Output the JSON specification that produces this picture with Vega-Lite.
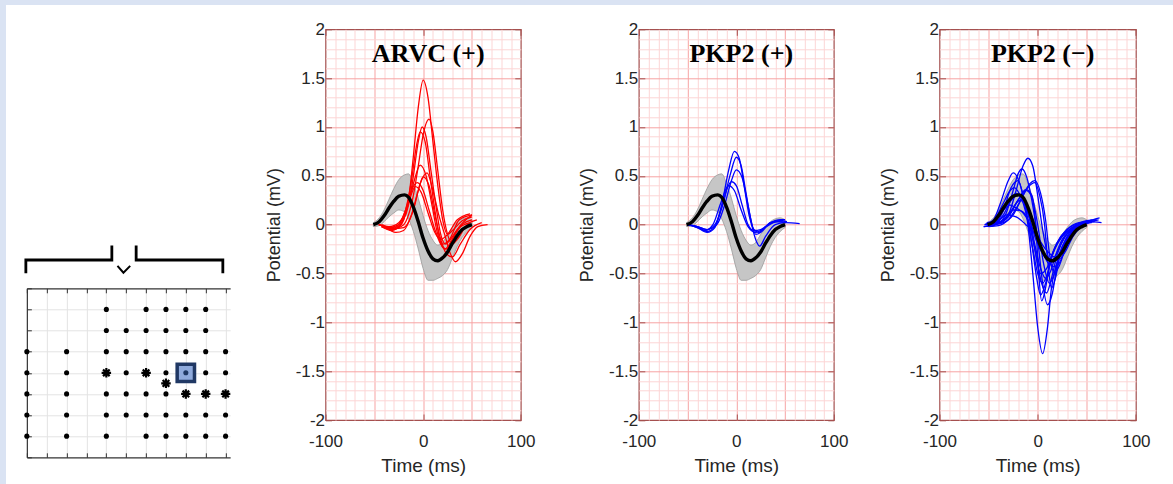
{
"$schema":"https://vega.github.io/schema/vega-lite/v6.json",
"padding":0,
"background":"white",
"config":{"view":{"stroke":null},"font":"Liberation Sans","axis":{"labelFont":"Liberation Sans","titleFont":"Liberation Sans","labelColor":"#262626","titleColor":"#262626","titleFontWeight":"normal","labelFlush":false},"title":{"font":"Liberation Serif"}},
"datasets":{
"band":[{"t":-51,"v":0.00,"lo":-0.02,"hi":0.02},{"t":-45,"v":0.03,"lo":-0.01,"hi":0.07},{"t":-40,"v":0.09,"lo":0.03,"hi":0.15},{"t":-35,"v":0.17,"lo":0.08,"hi":0.26},{"t":-30,"v":0.24,"lo":0.12,"hi":0.37},{"t":-25,"v":0.29,"lo":0.15,"hi":0.46},{"t":-19,"v":0.305,"lo":0.13,"hi":0.51},{"t":-15,"v":0.28,"lo":0.06,"hi":0.52},{"t":-10,"v":0.18,"lo":-0.07,"hi":0.42},{"t":-5,"v":0.03,"lo":-0.25,"hi":0.27},{"t":0,"v":-0.14,"lo":-0.45,"hi":0.09},{"t":5,"v":-0.27,"lo":-0.57,"hi":-0.06},{"t":10,"v":-0.35,"lo":-0.57,"hi":-0.16},{"t":15,"v":-0.37,"lo":-0.55,"hi":-0.21},{"t":20,"v":-0.34,"lo":-0.52,"hi":-0.18},{"t":25,"v":-0.28,"lo":-0.46,"hi":-0.10},{"t":30,"v":-0.19,"lo":-0.34,"hi":-0.03},{"t":35,"v":-0.11,"lo":-0.22,"hi":0.03},{"t":40,"v":-0.05,"lo":-0.13,"hi":0.06},{"t":45,"v":-0.02,"lo":-0.07,"hi":0.07},{"t":50,"v":0.00,"lo":-0.03,"hi":0.05}],
"arvc":[
{"k":1,"t":-45,"v":0},{"k":1,"t":-35,"v":-0.03},{"k":1,"t":-25,"v":-0.02},{"k":1,"t":-20,"v":0.05},{"k":1,"t":-15,"v":0.25},{"k":1,"t":-10,"v":0.7},{"k":1,"t":-5,"v":1.2},{"k":1,"t":0,"v":1.48},{"k":1,"t":5,"v":1.3},{"k":1,"t":10,"v":0.85},{"k":1,"t":15,"v":0.4},{"k":1,"t":20,"v":0.05},{"k":1,"t":25,"v":-0.1},{"k":1,"t":30,"v":-0.06},{"k":1,"t":40,"v":0.04},{"k":1,"t":50,"v":0.08},
{"k":2,"t":-42,"v":0},{"k":2,"t":-30,"v":-0.04},{"k":2,"t":-20,"v":0},{"k":2,"t":-15,"v":0.1},{"k":2,"t":-10,"v":0.3},{"k":2,"t":-5,"v":0.6},{"k":2,"t":0,"v":0.92},{"k":2,"t":6,"v":1.08},{"k":2,"t":10,"v":0.95},{"k":2,"t":15,"v":0.55},{"k":2,"t":20,"v":0.15},{"k":2,"t":25,"v":-0.1},{"k":2,"t":30,"v":-0.2},{"k":2,"t":35,"v":-0.15},{"k":2,"t":45,"v":0},{"k":2,"t":55,"v":0.05},
{"k":3,"t":-44,"v":0},{"k":3,"t":-30,"v":-0.05},{"k":3,"t":-20,"v":0.05},{"k":3,"t":-15,"v":0.2},{"k":3,"t":-10,"v":0.5},{"k":3,"t":-5,"v":0.85},{"k":3,"t":-1,"v":1.0},{"k":3,"t":3,"v":0.9},{"k":3,"t":8,"v":0.55},{"k":3,"t":13,"v":0.2},{"k":3,"t":18,"v":-0.1},{"k":3,"t":23,"v":-0.2},{"k":3,"t":28,"v":-0.15},{"k":3,"t":35,"v":-0.05},{"k":3,"t":48,"v":0.02},
{"k":4,"t":-46,"v":0},{"k":4,"t":-35,"v":-0.02},{"k":4,"t":-25,"v":0.02},{"k":4,"t":-18,"v":0.15},{"k":4,"t":-12,"v":0.45},{"k":4,"t":-7,"v":0.8},{"k":4,"t":-3,"v":0.95},{"k":4,"t":2,"v":0.85},{"k":4,"t":7,"v":0.5},{"k":4,"t":12,"v":0.15},{"k":4,"t":17,"v":-0.15},{"k":4,"t":22,"v":-0.25},{"k":4,"t":27,"v":-0.2},{"k":4,"t":35,"v":-0.05},{"k":4,"t":50,"v":0.1},
{"k":5,"t":-43,"v":-0.02},{"k":5,"t":-33,"v":-0.05},{"k":5,"t":-25,"v":0},{"k":5,"t":-17,"v":0.15},{"k":5,"t":-10,"v":0.42},{"k":5,"t":-3,"v":0.61},{"k":5,"t":3,"v":0.5},{"k":5,"t":9,"v":0.2},{"k":5,"t":15,"v":-0.1},{"k":5,"t":20,"v":-0.2},{"k":5,"t":27,"v":-0.15},{"k":5,"t":37,"v":0.05},{"k":5,"t":50,"v":0.1},
{"k":6,"t":-40,"v":-0.02},{"k":6,"t":-30,"v":-0.04},{"k":6,"t":-20,"v":-0.03},{"k":6,"t":-10,"v":0.15},{"k":6,"t":-3,"v":0.42},{"k":6,"t":4,"v":0.53},{"k":6,"t":10,"v":0.35},{"k":6,"t":16,"v":0.1},{"k":6,"t":22,"v":-0.1},{"k":6,"t":28,"v":-0.3},{"k":6,"t":33,"v":-0.38},{"k":6,"t":40,"v":-0.3},{"k":6,"t":48,"v":-0.12},{"k":6,"t":56,"v":-0.02},{"k":6,"t":66,"v":0},
{"k":7,"t":-45,"v":0},{"k":7,"t":-35,"v":-0.03},{"k":7,"t":-25,"v":0},{"k":7,"t":-18,"v":0.15},{"k":7,"t":-12,"v":0.35},{"k":7,"t":-6,"v":0.43},{"k":7,"t":0,"v":0.35},{"k":7,"t":6,"v":0.15},{"k":7,"t":12,"v":-0.05},{"k":7,"t":18,"v":-0.2},{"k":7,"t":24,"v":-0.25},{"k":7,"t":30,"v":-0.15},{"k":7,"t":40,"v":0},{"k":7,"t":50,"v":0.05},
{"k":8,"t":-42,"v":-0.02},{"k":8,"t":-32,"v":-0.06},{"k":8,"t":-22,"v":0.02},{"k":8,"t":-15,"v":0.22},{"k":8,"t":-8,"v":0.39},{"k":8,"t":-2,"v":0.33},{"k":8,"t":5,"v":0.12},{"k":8,"t":12,"v":-0.08},{"k":8,"t":18,"v":-0.15},{"k":8,"t":25,"v":-0.1},{"k":8,"t":35,"v":0.05},{"k":8,"t":48,"v":0.11},
{"k":9,"t":-38,"v":-0.03},{"k":9,"t":-28,"v":-0.08},{"k":9,"t":-20,"v":-0.06},{"k":9,"t":-12,"v":0.1},{"k":9,"t":-5,"v":0.35},{"k":9,"t":0,"v":0.49},{"k":9,"t":6,"v":0.4},{"k":9,"t":12,"v":0.1},{"k":9,"t":18,"v":-0.15},{"k":9,"t":24,"v":-0.3},{"k":9,"t":30,"v":-0.33},{"k":9,"t":38,"v":-0.2},{"k":9,"t":48,"v":-0.05},{"k":9,"t":60,"v":0.02}
],
"pkpPos":[
{"k":1,"t":-50,"v":0},{"k":1,"t":-40,"v":-0.03},{"k":1,"t":-30,"v":-0.07},{"k":1,"t":-22,"v":-0.02},{"k":1,"t":-15,"v":0.2},{"k":1,"t":-8,"v":0.55},{"k":1,"t":-2,"v":0.75},{"k":1,"t":3,"v":0.68},{"k":1,"t":8,"v":0.4},{"k":1,"t":13,"v":0.1},{"k":1,"t":18,"v":-0.05},{"k":1,"t":23,"v":-0.08},{"k":1,"t":30,"v":-0.02},{"k":1,"t":40,"v":0.03},{"k":1,"t":50,"v":0.02},
{"k":2,"t":-50,"v":0},{"k":2,"t":-40,"v":-0.02},{"k":2,"t":-30,"v":-0.05},{"k":2,"t":-22,"v":0},{"k":2,"t":-14,"v":0.2},{"k":2,"t":-6,"v":0.52},{"k":2,"t":0,"v":0.69},{"k":2,"t":5,"v":0.6},{"k":2,"t":10,"v":0.32},{"k":2,"t":15,"v":0.05},{"k":2,"t":20,"v":-0.1},{"k":2,"t":25,"v":-0.08},{"k":2,"t":35,"v":0.02},{"k":2,"t":45,"v":0.04},{"k":2,"t":52,"v":0.03},
{"k":3,"t":-50,"v":0},{"k":3,"t":-40,"v":-0.02},{"k":3,"t":-30,"v":-0.05},{"k":3,"t":-20,"v":0},{"k":3,"t":-12,"v":0.2},{"k":3,"t":-5,"v":0.45},{"k":3,"t":0,"v":0.56},{"k":3,"t":6,"v":0.48},{"k":3,"t":12,"v":0.2},{"k":3,"t":17,"v":-0.05},{"k":3,"t":21,"v":-0.18},{"k":3,"t":24,"v":-0.22},{"k":3,"t":30,"v":-0.12},{"k":3,"t":40,"v":0},{"k":3,"t":50,"v":0.02},{"k":3,"t":65,"v":0.01},
{"k":4,"t":-50,"v":0},{"k":4,"t":-40,"v":-0.03},{"k":4,"t":-30,"v":-0.08},{"k":4,"t":-22,"v":-0.03},{"k":4,"t":-15,"v":0.18},{"k":4,"t":-9,"v":0.38},{"k":4,"t":-5,"v":0.44},{"k":4,"t":0,"v":0.4},{"k":4,"t":6,"v":0.2},{"k":4,"t":12,"v":0},{"k":4,"t":18,"v":-0.06},{"k":4,"t":25,"v":-0.05},{"k":4,"t":35,"v":0.02},{"k":4,"t":45,"v":0.05},{"k":4,"t":50,"v":0.05},
{"k":5,"t":-50,"v":0},{"k":5,"t":-40,"v":-0.02},{"k":5,"t":-32,"v":-0.06},{"k":5,"t":-24,"v":0},{"k":5,"t":-16,"v":0.22},{"k":5,"t":-8,"v":0.4},{"k":5,"t":-2,"v":0.35},{"k":5,"t":5,"v":0.15},{"k":5,"t":12,"v":-0.02},{"k":5,"t":20,"v":-0.08},{"k":5,"t":28,"v":-0.04},{"k":5,"t":38,"v":0.02},{"k":5,"t":48,"v":0.04}
],
"pkpNeg":[
{"k":1,"t":-52,"v":0},{"k":1,"t":-40,"v":0.02},{"k":1,"t":-30,"v":0.1},{"k":1,"t":-22,"v":0.35},{"k":1,"t":-15,"v":0.6},{"k":1,"t":-10,"v":0.68},{"k":1,"t":-5,"v":0.6},{"k":1,"t":0,"v":0.3},{"k":1,"t":5,"v":-0.05},{"k":1,"t":10,"v":-0.3},{"k":1,"t":15,"v":-0.43},{"k":1,"t":20,"v":-0.42},{"k":1,"t":27,"v":-0.28},{"k":1,"t":35,"v":-0.12},{"k":1,"t":45,"v":0},{"k":1,"t":55,"v":0.05},
{"k":2,"t":-54,"v":0},{"k":2,"t":-45,"v":0.03},{"k":2,"t":-35,"v":0.15},{"k":2,"t":-27,"v":0.38},{"k":2,"t":-20,"v":0.45},{"k":2,"t":-15,"v":0.3},{"k":2,"t":-10,"v":0},{"k":2,"t":-5,"v":-0.5},{"k":2,"t":0,"v":-1.05},{"k":2,"t":5,"v":-1.32},{"k":2,"t":10,"v":-1.05},{"k":2,"t":14,"v":-0.65},{"k":2,"t":18,"v":-0.45},{"k":2,"t":23,"v":-0.3},{"k":2,"t":30,"v":-0.15},{"k":2,"t":40,"v":-0.03},{"k":2,"t":50,"v":0.02},{"k":2,"t":58,"v":0.03},
{"k":3,"t":-53,"v":0},{"k":3,"t":-45,"v":0.05},{"k":3,"t":-38,"v":0.22},{"k":3,"t":-30,"v":0.45},{"k":3,"t":-25,"v":0.53},{"k":3,"t":-20,"v":0.47},{"k":3,"t":-15,"v":0.3},{"k":3,"t":-10,"v":0.05},{"k":3,"t":-5,"v":-0.25},{"k":3,"t":0,"v":-0.5},{"k":3,"t":5,"v":-0.6},{"k":3,"t":10,"v":-0.5},{"k":3,"t":15,"v":-0.3},{"k":3,"t":22,"v":-0.15},{"k":3,"t":30,"v":-0.05},{"k":3,"t":42,"v":0.02},{"k":3,"t":50,"v":0.03},
{"k":4,"t":-50,"v":0},{"k":4,"t":-40,"v":0.02},{"k":4,"t":-32,"v":0.12},{"k":4,"t":-25,"v":0.35},{"k":4,"t":-20,"v":0.52},{"k":4,"t":-16,"v":0.57},{"k":4,"t":-11,"v":0.48},{"k":4,"t":-6,"v":0.25},{"k":4,"t":0,"v":-0.15},{"k":4,"t":5,"v":-0.6},{"k":4,"t":10,"v":-0.82},{"k":4,"t":15,"v":-0.7},{"k":4,"t":20,"v":-0.4},{"k":4,"t":27,"v":-0.2},{"k":4,"t":35,"v":-0.07},{"k":4,"t":45,"v":0},{"k":4,"t":55,"v":0.03},
{"k":5,"t":-50,"v":-0.02},{"k":5,"t":-40,"v":-0.01},{"k":5,"t":-30,"v":0.05},{"k":5,"t":-20,"v":0.2},{"k":5,"t":-10,"v":0.38},{"k":5,"t":-3,"v":0.43},{"k":5,"t":2,"v":0.3},{"k":5,"t":7,"v":0},{"k":5,"t":10,"v":-0.35},{"k":5,"t":14,"v":-0.65},{"k":5,"t":18,"v":-0.55},{"k":5,"t":23,"v":-0.3},{"k":5,"t":30,"v":-0.12},{"k":5,"t":40,"v":0},{"k":5,"t":50,"v":0.04},{"k":5,"t":60,"v":0.05},
{"k":6,"t":-52,"v":0},{"k":6,"t":-40,"v":0.02},{"k":6,"t":-30,"v":0.08},{"k":6,"t":-20,"v":0.25},{"k":6,"t":-12,"v":0.36},{"k":6,"t":-6,"v":0.3},{"k":6,"t":-2,"v":0},{"k":6,"t":1,"v":-0.5},{"k":6,"t":4,"v":-0.78},{"k":6,"t":8,"v":-0.65},{"k":6,"t":12,"v":-0.4},{"k":6,"t":18,"v":-0.22},{"k":6,"t":25,"v":-0.12},{"k":6,"t":35,"v":-0.03},{"k":6,"t":45,"v":0.01},{"k":6,"t":55,"v":0.02},
{"k":7,"t":-48,"v":0},{"k":7,"t":-40,"v":0.05},{"k":7,"t":-32,"v":0.2},{"k":7,"t":-22,"v":0.32},{"k":7,"t":-15,"v":0.25},{"k":7,"t":-8,"v":0.05},{"k":7,"t":-2,"v":-0.15},{"k":7,"t":5,"v":-0.3},{"k":7,"t":10,"v":-0.36},{"k":7,"t":16,"v":-0.38},{"k":7,"t":22,"v":-0.3},{"k":7,"t":30,"v":-0.15},{"k":7,"t":40,"v":-0.03},{"k":7,"t":50,"v":0.02},{"k":7,"t":62,"v":0.05},
{"k":8,"t":-55,"v":-0.02},{"k":8,"t":-45,"v":0},{"k":8,"t":-35,"v":0.1},{"k":8,"t":-27,"v":0.25},{"k":8,"t":-20,"v":0.3},{"k":8,"t":-14,"v":0.25},{"k":8,"t":-8,"v":0.05},{"k":8,"t":-3,"v":-0.2},{"k":8,"t":3,"v":-0.45},{"k":8,"t":8,"v":-0.55},{"k":8,"t":13,"v":-0.48},{"k":8,"t":18,"v":-0.32},{"k":8,"t":25,"v":-0.15},{"k":8,"t":35,"v":-0.05},{"k":8,"t":45,"v":0.02},{"k":8,"t":55,"v":0.04},
{"k":9,"t":-52,"v":0.02},{"k":9,"t":-42,"v":0.05},{"k":9,"t":-35,"v":0.15},{"k":9,"t":-28,"v":0.2},{"k":9,"t":-22,"v":0.17},{"k":9,"t":-15,"v":0.12},{"k":9,"t":-8,"v":0},{"k":9,"t":-2,"v":-0.3},{"k":9,"t":4,"v":-0.6},{"k":9,"t":9,"v":-0.7},{"k":9,"t":14,"v":-0.55},{"k":9,"t":20,"v":-0.3},{"k":9,"t":28,"v":-0.12},{"k":9,"t":38,"v":-0.02},{"k":9,"t":50,"v":0.03},
{"k":10,"t":-55,"v":-0.02},{"k":10,"t":-45,"v":-0.01},{"k":10,"t":-35,"v":0.05},{"k":10,"t":-25,"v":0.15},{"k":10,"t":-17,"v":0.14},{"k":10,"t":-10,"v":0.05},{"k":10,"t":-4,"v":-0.2},{"k":10,"t":3,"v":-0.5},{"k":10,"t":9,"v":-0.45},{"k":10,"t":16,"v":-0.28},{"k":10,"t":25,"v":-0.12},{"k":10,"t":35,"v":-0.03},{"k":10,"t":48,"v":0.02},
{"k":11,"t":-50,"v":0},{"k":11,"t":-40,"v":0.01},{"k":11,"t":-30,"v":0.08},{"k":11,"t":-20,"v":0.25},{"k":11,"t":-12,"v":0.35},{"k":11,"t":-6,"v":0.28},{"k":11,"t":0,"v":0},{"k":11,"t":6,"v":-0.4},{"k":11,"t":12,"v":-0.6},{"k":11,"t":17,"v":-0.5},{"k":11,"t":22,"v":-0.3},{"k":11,"t":30,"v":-0.13},{"k":11,"t":40,"v":-0.02},{"k":11,"t":52,"v":0.03},{"k":11,"t":65,"v":0.02},
{"k":12,"t":-45,"v":0},{"k":12,"t":-35,"v":0.02},{"k":12,"t":-25,"v":0.1},{"k":12,"t":-15,"v":0.3},{"k":12,"t":-8,"v":0.42},{"k":12,"t":-3,"v":0.45},{"k":12,"t":3,"v":0.32},{"k":12,"t":8,"v":0.05},{"k":12,"t":12,"v":-0.3},{"k":12,"t":17,"v":-0.5},{"k":12,"t":22,"v":-0.42},{"k":12,"t":28,"v":-0.25},{"k":12,"t":36,"v":-0.1},{"k":12,"t":46,"v":0},{"k":12,"t":56,"v":0.05},{"k":12,"t":63,"v":0.07},
{"k":13,"t":-50,"v":0},{"k":13,"t":-40,"v":0.02},{"k":13,"t":-30,"v":0.1},{"k":13,"t":-18,"v":0.25},{"k":13,"t":-10,"v":0.18},{"k":13,"t":-3,"v":0},{"k":13,"t":4,"v":-0.25},{"k":13,"t":12,"v":-0.4},{"k":13,"t":18,"v":-0.32},{"k":13,"t":26,"v":-0.15},{"k":13,"t":36,"v":-0.03},{"k":13,"t":48,"v":0.02},
{"k":14,"t":-54,"v":0},{"k":14,"t":-45,"v":0.04},{"k":14,"t":-36,"v":0.2},{"k":14,"t":-28,"v":0.35},{"k":14,"t":-24,"v":0.38},{"k":14,"t":-18,"v":0.3},{"k":14,"t":-12,"v":0.12},{"k":14,"t":-6,"v":-0.2},{"k":14,"t":-1,"v":-0.55},{"k":14,"t":3,"v":-0.72},{"k":14,"t":8,"v":-0.6},{"k":14,"t":14,"v":-0.35},{"k":14,"t":20,"v":-0.18},{"k":14,"t":30,"v":-0.05},{"k":14,"t":42,"v":0.01},{"k":14,"t":52,"v":0.02},
{"k":15,"t":-52,"v":0},{"k":15,"t":-42,"v":0.02},{"k":15,"t":-32,"v":0.1},{"k":15,"t":-22,"v":0.08},{"k":15,"t":-12,"v":0},{"k":15,"t":-2,"v":-0.1},{"k":15,"t":8,"v":-0.25},{"k":15,"t":15,"v":-0.32},{"k":15,"t":22,"v":-0.35},{"k":15,"t":28,"v":-0.28},{"k":15,"t":36,"v":-0.12},{"k":15,"t":45,"v":-0.02},{"k":15,"t":55,"v":0.03}
],
"dots":[{"c":4,"r":1},{"c":6,"r":1},{"c":7,"r":1},{"c":8,"r":1},{"c":9,"r":1},
{"c":4,"r":2},{"c":5,"r":2},{"c":6,"r":2},{"c":7,"r":2},{"c":8,"r":2},{"c":9,"r":2},
{"c":0,"r":3},{"c":2,"r":3},{"c":4,"r":3},{"c":5,"r":3},{"c":6,"r":3},{"c":7,"r":3},{"c":8,"r":3},{"c":9,"r":3},{"c":10,"r":3},
{"c":0,"r":4},{"c":2,"r":4},{"c":5,"r":4},{"c":7,"r":4},{"c":9,"r":4},{"c":10,"r":4},
{"c":0,"r":5},{"c":2,"r":5},{"c":4,"r":5},{"c":5,"r":5},{"c":6,"r":5},{"c":7,"r":5},
{"c":0,"r":6},{"c":2,"r":6},{"c":4,"r":6},{"c":5,"r":6},{"c":6,"r":6},{"c":7,"r":6},{"c":8,"r":6},{"c":9,"r":6},{"c":10,"r":6},
{"c":0,"r":7},{"c":2,"r":7},{"c":4,"r":7},{"c":6,"r":7},{"c":7,"r":7},{"c":8,"r":7},{"c":9,"r":7},{"c":10,"r":7}],
"stars":[{"c":4,"r":4},{"c":6,"r":4},{"c":7,"r":4.5},{"c":8,"r":5},{"c":9,"r":5},{"c":10,"r":5}],
"sel":[{"c":8,"r":4}],
"bracket":[{"g":"L","i":1,"x":-0.05,"y":-0.78},{"g":"L","i":2,"x":-0.05,"y":-1.34},{"g":"L","i":3,"x":4.277,"y":-1.34},{"g":"L","i":4,"x":4.277,"y":-1.96},
{"g":"R","i":1,"x":5.5,"y":-1.96},{"g":"R","i":2,"x":5.5,"y":-1.34},{"g":"R","i":3,"x":9.862,"y":-1.34},{"g":"R","i":4,"x":9.862,"y":-0.78}],
"chevron":[{"i":1,"x":4.56,"y":-1.06},{"i":2,"x":4.86,"y":-0.74},{"i":3,"x":5.2,"y":-1.06}]
},
"bounds":"flush",
"spacing":0,
"hconcat":[
{"width":6,"height":484,"view":{"stroke":null,"fill":"#dae3f3"},"data":{"values":[{}]},"mark":{"type":"rect","color":"#dae3f3"}},
{"vconcat":[
 {"width":1167,"height":5,"view":{"stroke":null,"fill":"#dae3f3"},"data":{"values":[{}]},"mark":{"type":"rect","color":"#dae3f3"}},
 {"hconcat":[
  {"vconcat":[
   {"width":244.7,"height":259,"view":{"stroke":null},
    "layer":[
     {"data":{"name":"bracket"},"mark":{"type":"line","color":"black","strokeWidth":2.8,"strokeJoin":"miter","strokeCap":"square"},
      "encoding":{"x":{"field":"x","type":"quantitative","scale":{"domain":[-1.0416,11.2716],"nice":false,"zero":false},"axis":null},
       "y":{"field":"y","type":"quantitative","scale":{"domain":[-12.26,0],"reverse":true,"nice":false,"zero":false},"axis":null},
       "detail":{"field":"g"},"order":{"field":"i"}}},
     {"data":{"name":"chevron"},"mark":{"type":"line","color":"black","strokeWidth":2,"strokeJoin":"miter"},
      "encoding":{"x":{"field":"x","type":"quantitative","axis":null},"y":{"field":"y","type":"quantitative","axis":null},"order":{"field":"i"}}}
    ]},
   {"width":203.3,"height":169,"view":{"stroke":null},
    "layer":[
     {"data":{"name":"dots"},"mark":{"type":"circle","color":"black","opacity":1,"size":26},
      "encoding":{"x":{"field":"c","type":"quantitative","scale":{"domain":[0,10.23],"nice":false,"zero":false},
        "axis":{"values":[0,1,2,3,4,5,6,7,8,9,10],"grid":true,"gridColor":"#e3e3e3","gridWidth":1,"gridOpacity":{"condition":{"test":"datum.value === 0","value":0},"value":1},"labels":false,"ticks":true,"tickSize":-4.5,"tickColor":"#333333","domain":true,"domainColor":"#333333","domainWidth":1.2,"title":null}},
       "y":{"field":"r","type":"quantitative","scale":{"domain":[0,8],"reverse":true,"nice":false,"zero":false},
        "axis":{"values":[0,1,2,3,4,5,6,7,8],"grid":true,"gridColor":"#e3e3e3","gridWidth":1,"gridOpacity":{"condition":{"test":"datum.value === 0 || datum.value === 8","value":0},"value":1},"labels":false,"ticks":true,"tickSize":-4.5,"tickColor":"#333333","domain":true,"domainColor":"#333333","domainWidth":1.2,"title":null}}}},
     {"data":{"name":"stars"},"mark":{"type":"point","shape":"M0,-1L0,1M-1,0L1,0M-0.7,-0.7L0.7,0.7M-0.7,0.7L0.7,-0.7","filled":false,"color":"black","strokeWidth":2.2,"size":90,"opacity":1},
      "encoding":{"x":{"field":"c","type":"quantitative","axis":{"orient":"top","values":[0,1,2,3,4,5,6,7,8,9,10],"grid":false,"labels":false,"ticks":true,"tickSize":-4.5,"tickColor":"#333333","domain":true,"domainColor":"#333333","domainWidth":1.2,"title":null}},
       "y":{"field":"r","type":"quantitative","axis":null}}},
     {"data":{"name":"sel"},"mark":{"type":"point","shape":"square","filled":true,"fill":"#8faadc","stroke":"#203864","strokeWidth":3.5,"size":300,"opacity":1},
      "encoding":{"x":{"field":"c","type":"quantitative","axis":null},"y":{"field":"r","type":"quantitative","axis":null}}},
     {"data":{"name":"sel"},"mark":{"type":"circle","color":"#1f3864","size":26,"opacity":1},
      "encoding":{"x":{"field":"c","type":"quantitative","axis":null},"y":{"field":"r","type":"quantitative","axis":null}}}
    ],
    "resolve":{"axis":{"x":"independent","y":"independent"}}}
  ],"spacing":0,"bounds":"flush","center":true},
  {"hconcat":[
   {"width":195.3,"height":390.7,"view":{"stroke":"#a5504f","strokeWidth":1.2},
    "title":{"text":"ARVC (+)","font":"Liberation Serif","fontSize":26,"fontWeight":"bold","color":"black","anchor":"middle","frame":"group","offset":-47,"dx":5},
    "layer":[
     {"data":{"name":"band"},"mark":{"type":"area","color":"#c6c6c6","stroke":"#999999","strokeWidth":0.8,"opacity":1,"interpolate":"monotone"},
      "encoding":{"x":{"field":"t","type":"quantitative","scale":{"domain":[-100,100],"nice":false,"zero":false},
        "axis":{"values":[-100,-90,-80,-70,-60,-50,-40,-30,-20,-10,0,10,20,30,40,50,60,70,80,90,100],"grid":true,"gridColor":{"condition":{"test":"datum.value % 50 === 0","value":"#f7a3a3"},"value":"#fcd5d5"},"gridOpacity":{"condition":{"test":"abs(datum.value) === 100","value":0},"value":1},"gridWidth":1,"ticks":true,"tickSize":-6,"tickColor":"#a5504f","tickOpacity":{"condition":{"test":"datum.value % 100 === 0","value":1},"value":0},"labelExpr":"datum.value % 100 === 0 ? '' + datum.value : ''","labelOverlap":false,"labelFlush":false,"labelPadding":19,"labelFontSize":17,"domain":false,"title":"Time (ms)","titleFontSize":19,"titlePadding":7}},
       "y":{"field":"lo","type":"quantitative","scale":{"domain":[-2,2],"nice":false,"zero":false},
        "axis":{"values":[-2,-1.9,-1.8,-1.7,-1.6,-1.5,-1.4,-1.3,-1.2,-1.1,-1,-0.9,-0.8,-0.7,-0.6,-0.5,-0.4,-0.3,-0.2,-0.1,0,0.1,0.2,0.3,0.4,0.5,0.6,0.7,0.8,0.9,1,1.1,1.2,1.3,1.4,1.5,1.6,1.7,1.8,1.9,2],"grid":true,"gridColor":{"condition":{"test":"abs(datum.value*2 - round(datum.value*2)) < 0.001","value":"#f7a3a3"},"value":"#fcd5d5"},"gridOpacity":{"condition":{"test":"abs(datum.value) > 1.999","value":0},"value":1},"gridWidth":1,"ticks":true,"tickSize":-6,"tickColor":"#a5504f","tickOpacity":{"condition":{"test":"abs(datum.value*2 - round(datum.value*2)) < 0.001","value":1},"value":0},"labelExpr":"abs(datum.value*2 - round(datum.value*2)) < 0.001 ? '' + datum.value : ''","labelOverlap":false,"labelFlush":false,"labelPadding":7,"labelFontSize":17,"domain":false,"title":"Potential (mV)","titleFontSize":18,"titlePadding":12}},
       "y2":{"field":"hi"}}},
     {"data":{"name":"arvc"},"mark":{"type":"line","color":"#ff0000","strokeWidth":1.3,"interpolate":"monotone"},
      "encoding":{"x":{"field":"t","type":"quantitative","axis":null},"y":{"field":"v","type":"quantitative","axis":null},"detail":{"field":"k"}}},
     {"data":{"name":"band"},"mark":{"type":"line","color":"black","strokeWidth":3.4,"interpolate":"monotone"},
      "encoding":{"x":{"field":"t","type":"quantitative","axis":{"orient":"top","values":[-100,0,100],"grid":false,"labels":false,"domain":false,"ticks":true,"tickSize":-6,"tickColor":"#a5504f","title":null}},
       "y":{"field":"v","type":"quantitative","axis":{"orient":"right","values":[-2,-1.5,-1,-0.5,0,0.5,1,1.5,2],"grid":false,"labels":false,"domain":false,"ticks":true,"tickSize":-6,"tickColor":"#a5504f","title":null}}}}
    ],
    "resolve":{"axis":{"x":"independent","y":"independent"}}},
   {"hconcat":[
    {"width":195,"height":390.7,"view":{"stroke":"#a5504f","strokeWidth":1.2},
     "title":{"text":"PKP2 (+)","font":"Liberation Serif","fontSize":26,"fontWeight":"bold","color":"black","anchor":"middle","frame":"group","offset":-47,"dx":5},
     "layer":[
      {"data":{"name":"band"},"mark":{"type":"area","color":"#c6c6c6","stroke":"#999999","strokeWidth":0.8,"opacity":1,"interpolate":"monotone"},
       "encoding":{"x":{"field":"t","type":"quantitative","scale":{"domain":[-100,100],"nice":false,"zero":false},
         "axis":{"values":[-100,-90,-80,-70,-60,-50,-40,-30,-20,-10,0,10,20,30,40,50,60,70,80,90,100],"grid":true,"gridColor":{"condition":{"test":"datum.value % 50 === 0","value":"#f7a3a3"},"value":"#fcd5d5"},"gridOpacity":{"condition":{"test":"abs(datum.value) === 100","value":0},"value":1},"gridWidth":1,"ticks":true,"tickSize":-6,"tickColor":"#a5504f","tickOpacity":{"condition":{"test":"datum.value % 100 === 0","value":1},"value":0},"labelExpr":"datum.value % 100 === 0 ? '' + datum.value : ''","labelOverlap":false,"labelFlush":false,"labelPadding":19,"labelFontSize":17,"domain":false,"title":"Time (ms)","titleFontSize":19,"titlePadding":7}},
        "y":{"field":"lo","type":"quantitative","scale":{"domain":[-2,2],"nice":false,"zero":false},
         "axis":{"values":[-2,-1.9,-1.8,-1.7,-1.6,-1.5,-1.4,-1.3,-1.2,-1.1,-1,-0.9,-0.8,-0.7,-0.6,-0.5,-0.4,-0.3,-0.2,-0.1,0,0.1,0.2,0.3,0.4,0.5,0.6,0.7,0.8,0.9,1,1.1,1.2,1.3,1.4,1.5,1.6,1.7,1.8,1.9,2],"grid":true,"gridColor":{"condition":{"test":"abs(datum.value*2 - round(datum.value*2)) < 0.001","value":"#f7a3a3"},"value":"#fcd5d5"},"gridOpacity":{"condition":{"test":"abs(datum.value) > 1.999","value":0},"value":1},"gridWidth":1,"ticks":true,"tickSize":-6,"tickColor":"#a5504f","tickOpacity":{"condition":{"test":"abs(datum.value*2 - round(datum.value*2)) < 0.001","value":1},"value":0},"labelExpr":"abs(datum.value*2 - round(datum.value*2)) < 0.001 ? '' + datum.value : ''","labelOverlap":false,"labelFlush":false,"labelPadding":7,"labelFontSize":17,"domain":false,"title":"Potential (mV)","titleFontSize":18,"titlePadding":12}},
        "y2":{"field":"hi"}}},
      {"data":{"name":"pkpPos"},"mark":{"type":"line","color":"#0000ff","strokeWidth":1.3,"interpolate":"monotone"},
       "encoding":{"x":{"field":"t","type":"quantitative","axis":null},"y":{"field":"v","type":"quantitative","axis":null},"detail":{"field":"k"}}},
      {"data":{"name":"band"},"mark":{"type":"line","color":"black","strokeWidth":3.4,"interpolate":"monotone"},
       "encoding":{"x":{"field":"t","type":"quantitative","axis":{"orient":"top","values":[-100,0,100],"grid":false,"labels":false,"domain":false,"ticks":true,"tickSize":-6,"tickColor":"#a5504f","title":null}},
        "y":{"field":"v","type":"quantitative","axis":{"orient":"right","values":[-2,-1.5,-1,-0.5,0,0.5,1,1.5,2],"grid":false,"labels":false,"domain":false,"ticks":true,"tickSize":-6,"tickColor":"#a5504f","title":null}}}}
     ],
     "resolve":{"axis":{"x":"independent","y":"independent"}}},
    {"width":196.4,"height":390.7,"view":{"stroke":"#a5504f","strokeWidth":1.2},
     "title":{"text":"PKP2 (−)","font":"Liberation Serif","fontSize":26,"fontWeight":"bold","color":"black","anchor":"middle","frame":"group","offset":-47,"dx":5},
     "layer":[
      {"data":{"name":"band"},"mark":{"type":"area","color":"#c6c6c6","stroke":"#999999","strokeWidth":0.8,"opacity":1,"interpolate":"monotone"},
       "encoding":{"x":{"field":"t","type":"quantitative","scale":{"domain":[-100,100],"nice":false,"zero":false},
         "axis":{"values":[-100,-90,-80,-70,-60,-50,-40,-30,-20,-10,0,10,20,30,40,50,60,70,80,90,100],"grid":true,"gridColor":{"condition":{"test":"datum.value % 50 === 0","value":"#f7a3a3"},"value":"#fcd5d5"},"gridOpacity":{"condition":{"test":"abs(datum.value) === 100","value":0},"value":1},"gridWidth":1,"ticks":true,"tickSize":-6,"tickColor":"#a5504f","tickOpacity":{"condition":{"test":"datum.value % 100 === 0","value":1},"value":0},"labelExpr":"datum.value % 100 === 0 ? '' + datum.value : ''","labelOverlap":false,"labelFlush":false,"labelPadding":19,"labelFontSize":17,"domain":false,"title":"Time (ms)","titleFontSize":19,"titlePadding":7}},
        "y":{"field":"lo","type":"quantitative","scale":{"domain":[-2,2],"nice":false,"zero":false},
         "axis":{"values":[-2,-1.9,-1.8,-1.7,-1.6,-1.5,-1.4,-1.3,-1.2,-1.1,-1,-0.9,-0.8,-0.7,-0.6,-0.5,-0.4,-0.3,-0.2,-0.1,0,0.1,0.2,0.3,0.4,0.5,0.6,0.7,0.8,0.9,1,1.1,1.2,1.3,1.4,1.5,1.6,1.7,1.8,1.9,2],"grid":true,"gridColor":{"condition":{"test":"abs(datum.value*2 - round(datum.value*2)) < 0.001","value":"#f7a3a3"},"value":"#fcd5d5"},"gridOpacity":{"condition":{"test":"abs(datum.value) > 1.999","value":0},"value":1},"gridWidth":1,"ticks":true,"tickSize":-6,"tickColor":"#a5504f","tickOpacity":{"condition":{"test":"abs(datum.value*2 - round(datum.value*2)) < 0.001","value":1},"value":0},"labelExpr":"abs(datum.value*2 - round(datum.value*2)) < 0.001 ? '' + datum.value : ''","labelOverlap":false,"labelFlush":false,"labelPadding":7,"labelFontSize":17,"domain":false,"title":"Potential (mV)","titleFontSize":18,"titlePadding":12}},
        "y2":{"field":"hi"}}},
      {"data":{"name":"pkpNeg"},"mark":{"type":"line","color":"#0000ff","strokeWidth":1.3,"interpolate":"monotone"},
       "encoding":{"x":{"field":"t","type":"quantitative","axis":null},"y":{"field":"v","type":"quantitative","axis":null},"detail":{"field":"k"}}},
      {"data":{"name":"band"},"mark":{"type":"line","color":"black","strokeWidth":3.4,"interpolate":"monotone"},
       "encoding":{"x":{"field":"t","type":"quantitative","axis":{"orient":"top","values":[-100,0,100],"grid":false,"labels":false,"domain":false,"ticks":true,"tickSize":-6,"tickColor":"#a5504f","title":null}},
        "y":{"field":"v","type":"quantitative","axis":{"orient":"right","values":[-2,-1.5,-1,-0.5,0,0.5,1,1.5,2],"grid":false,"labels":false,"domain":false,"ticks":true,"tickSize":-6,"tickColor":"#a5504f","title":null}}}}
     ],
     "resolve":{"axis":{"x":"independent","y":"independent"}}}
   ],"spacing":105.7,"bounds":"flush"}
  ],"spacing":117.3,"bounds":"flush"}
 ],"spacing":13.5,"bounds":"full"}
],"spacing":24.3,"bounds":"flush"}
]
}
